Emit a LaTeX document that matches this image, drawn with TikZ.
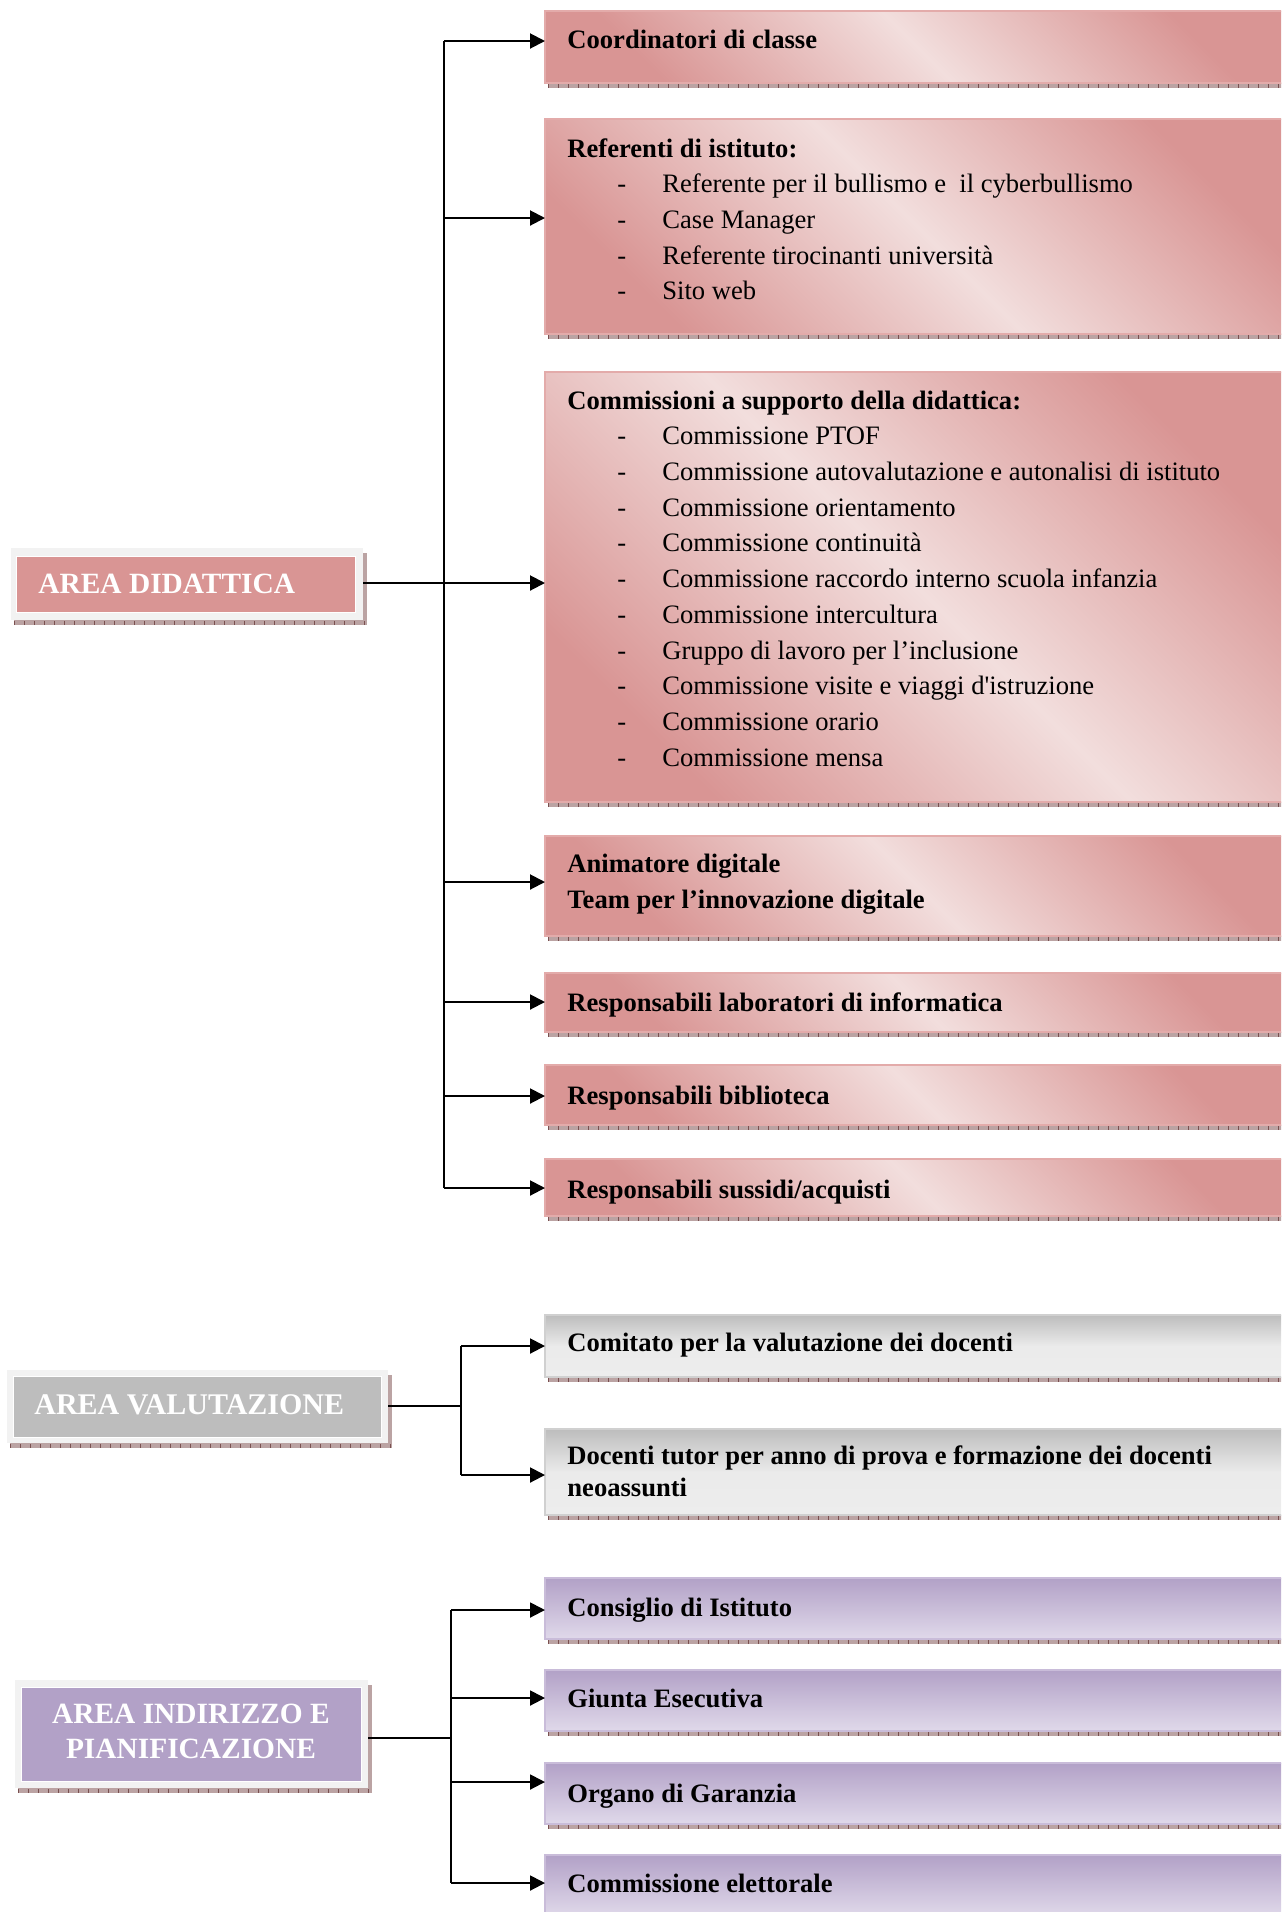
\documentclass[tikz,border=0pt]{standalone}
\usepackage{fontspec}
\setmainfont{Liberation Serif}[Ligatures=TeXOff]
\usetikzlibrary{arrows.meta}
\definecolor{pkdark}{HTML}{D99594}
\definecolor{pklight}{HTML}{F2DEDD}
\definecolor{pkline}{HTML}{E3ABAA}
\definecolor{grdark}{HTML}{BDBDBD}
\definecolor{grlight}{HTML}{EDEDED}
\definecolor{grline}{HTML}{D0D0D0}
\definecolor{pudark}{HTML}{B2A1C7}
\definecolor{pulight}{HTML}{E0D9EA}
\definecolor{puline}{HTML}{C9BCD9}
\definecolor{framecol}{HTML}{F2F2F2}
\definecolor{shfill}{HTML}{BBA3A3}
\definecolor{shtick}{HTML}{7A5050}
\tikzset{
  boxbase/.style={draw, line width=0.6pt, inner sep=0pt, outer sep=0pt, anchor=north west, minimum width=372.5pt},
  pinkbox/.style={boxbase, draw=pkline, top color=pkdark, bottom color=pkdark, middle color=pklight, shading angle=-45},
  graybox/.style={boxbase, draw=grline, top color=grdark, bottom color=grlight, middle color=grlight!95!grdark},
  purplebox/.style={boxbase, draw=puline, top color=pudark, bottom color=pulight},
  areaframe/.style={fill=framecol, inner sep=0pt, outer sep=0pt, anchor=north west},
  areainner/.style={inner sep=0pt, outer sep=0pt, anchor=north west, draw=white, line width=0.4pt},
  areatxt/.style={inner sep=0pt, text=white, font=\fontsize{14.7}{17.5}\selectfont\bfseries},
  itemtxt/.style={anchor=base west, inner sep=0pt, font=\fontsize{13.3}{16}\selectfont},
  titletxt/.style={anchor=base west, inner sep=0pt, font=\fontsize{13.3}{16}\selectfont\bfseries},
  conn/.style={line width=1pt},
  arr/.style={line width=1pt, -{Triangle[length=7.5pt,width=7.5pt]}},
  shadowfill/.style={fill=shfill},
  shadowticks/.style={draw=shtick, line width=2pt, dash pattern=on 0.5pt off 4.5pt},
}
\newcommand\mkbox[4]{%
  \fill[shadowfill] (548,{#3+#4}) rectangle (1290,{#3+#4+5});
  \draw[shadowticks] (548,{#3+#4+2.5}) -- (1290,{#3+#4+2.5});
  \node[#1, minimum height=#4*0.5pt] (#2) at (545,#3) {};
}
\newcommand\mkarea[9]{% name, inner colour, ox1, oy1, ox2, oy2, ix1, iy1, ix2
  \fill[shadowfill] ({#5},{#4+5}) rectangle ({#5+4},{#6+5});
  \fill[shadowfill] ({#3+3},{#6}) rectangle ({#5+4},{#6+5});
  \draw[shadowticks] ({#3+3},{#6+2.5}) -- ({#5+4},{#6+2.5});
  \node[areaframe, minimum width={(#5-#3)*0.5pt}, minimum height={(#6-#4)*0.5pt}] (#1) at (#3,#4) {};
  \node[areainner, fill=#2, minimum width={(#9-#7)*0.5pt}, minimum height={(#6-#4-2*(#8-#4))*0.5pt}] (#1i) at (#7,#8) {};
}
\begin{document}
\begin{tikzpicture}[x=0.5pt,y=-0.5pt]
\useasboundingbox (0,0) rectangle (1281,1912);
\clip (0,0) rectangle (1281,1912);

% ---------------- AREA DIDATTICA ----------------
\mkbox{pinkbox}{b1}{11}{72}
\mkbox{pinkbox}{b2}{119}{215}
\mkbox{pinkbox}{b3}{372}{430}
\mkbox{pinkbox}{b4}{836}{100}
\mkbox{pinkbox}{b5}{973}{59}
\mkbox{pinkbox}{b6}{1065}{60}
\mkbox{pinkbox}{b7}{1159}{57}

\node[titletxt] (t1) at (567,48.5) {Coordinatori di classe};
\node[titletxt] (t2) at (567,157) {Referenti di istituto:};
\foreach \y/\txt [count=\i] in {192.5/{Referente per il bullismo e\ \ il cyberbullismo},228.5/{Case Manager},264.5/{Referente tirocinanti università},299.5/{Sito web}}{
  \node[itemtxt] (d2\i) at (617,\y) {-};
  \node[itemtxt] (i2\i) at (662,\y) {\txt};
}
\node[titletxt] (t3) at (567,409.5) {Commissioni a supporto della didattica:};
\foreach \txt [count=\i from 0] in {{Commissione PTOF},{Commissione autovalutazione e autonalisi di istituto},{Commissione orientamento},{Commissione continuità},{Commissione raccordo interno scuola infanzia},{Commissione intercultura},{Gruppo di lavoro per l’inclusione},{Commissione visite e viaggi d'istruzione},{Commissione orario},{Commissione mensa}}{
  \node[itemtxt] (d3\i) at (617,{444.5+35.75*\i}) {-};
  \node[itemtxt] (i3\i) at (662,{444.5+35.75*\i}) {\txt};
}
\node[titletxt] (t4a) at (567,872.5) {Animatore digitale};
\node[titletxt] (t4b) at (567,908) {Team per l’innovazione digitale};
\node[titletxt] (t5) at (567,1011.5) {Responsabili laboratori di informatica};
\node[titletxt] (t6) at (567,1104) {Responsabili biblioteca};
\node[titletxt] (t7) at (567,1198) {Responsabili sussidi/acquisti};

\mkarea{adf}{pkdark}{11}{548}{363}{620}{16}{556}{355}
\node[areatxt, anchor=west] (adt) at (38,584) {AREA DIDATTICA};

\coordinate (dtop) at (444,41);
\coordinate (dbot) at (444,1188);
\coordinate (dj2) at (444,218);
\coordinate (dj3) at (444,583);
\coordinate (dj4) at (444,882);
\coordinate (dj5) at (444,1002);
\coordinate (dj6) at (444,1096);
\draw[conn] (dtop) -- (dbot);
\draw[arr] (dtop) -- (dtop -| b1.west);
\draw[arr] (dj2) -- (dj2 -| b2.west);
\draw[arr] (dj3 -| adf.east) -- (dj3 -| b3.west);
\draw[arr] (dj4) -- (dj4 -| b4.west);
\draw[arr] (dj5) -- (dj5 -| b5.west);
\draw[arr] (dj6) -- (dj6 -| b6.west);
\draw[arr] (dbot) -- (dbot -| b7.west);

% ---------------- AREA VALUTAZIONE ----------------
\mkbox{graybox}{g1}{1315}{62}
\mkbox{graybox}{g2}{1429}{86}
\node[titletxt] (tg1) at (567,1351.5) {Comitato per la valutazione dei docenti};
\node[titletxt] (tg2a) at (567,1464.5) {Docenti tutor per anno di prova e formazione dei docenti};
\node[titletxt] (tg2b) at (567,1496.5) {neoassunti};

\mkarea{avf}{grdark}{7}{1370}{388}{1443}{13}{1376}{381}
\node[areatxt, anchor=west, font=\fontsize{15}{17.5}\selectfont\bfseries] (avt) at (34,1405) {AREA VALUTAZIONE};

\coordinate (vj) at (461,1406);
\coordinate (vtop) at (461,1346);
\coordinate (vbot) at (461,1475);
\draw[conn] (vj -| avf.east) -- (vj);
\draw[conn] (vtop) -- (vbot);
\draw[arr] (vtop) -- (vtop -| g1.west);
\draw[arr] (vbot) -- (vbot -| g2.west);

% ---------------- AREA INDIRIZZO E PIANIFICAZIONE ----------------
\mkbox{purplebox}{p1}{1578}{61}
\mkbox{purplebox}{p2}{1670}{61}
\mkbox{purplebox}{p3}{1763}{61}
\mkbox{purplebox}{p4}{1855}{61}
\node[titletxt] (tp1) at (567,1616) {Consiglio di Istituto};
\node[titletxt] (tp2) at (567,1707.5) {Giunta Esecutiva};
\node[titletxt] (tp3) at (567,1802.5) {Organo di Garanzia};
\node[titletxt] (tp4) at (567,1892.5) {Commissione elettorale};

\mkarea{aif}{pudark}{15}{1680}{368}{1788}{21}{1687}{361}
\node[areatxt, align=center] (ait) at (191,1731) {AREA INDIRIZZO E\\PIANIFICAZIONE};

\coordinate (ij) at (451,1738);
\coordinate (itop) at (451,1610);
\coordinate (ij2) at (451,1698);
\coordinate (ij3) at (451,1782);
\coordinate (ibot) at (451,1883);
\draw[conn] (ij -| aif.east) -- (ij);
\draw[conn] (itop) -- (ibot);
\draw[arr] (itop) -- (itop -| p1.west);
\draw[arr] (ij2) -- (ij2 -| p2.west);
\draw[arr] (ij3) -- (ij3 -| p3.west);
\draw[arr] (ibot) -- (ibot -| p4.west);
\end{tikzpicture}
\end{document}
